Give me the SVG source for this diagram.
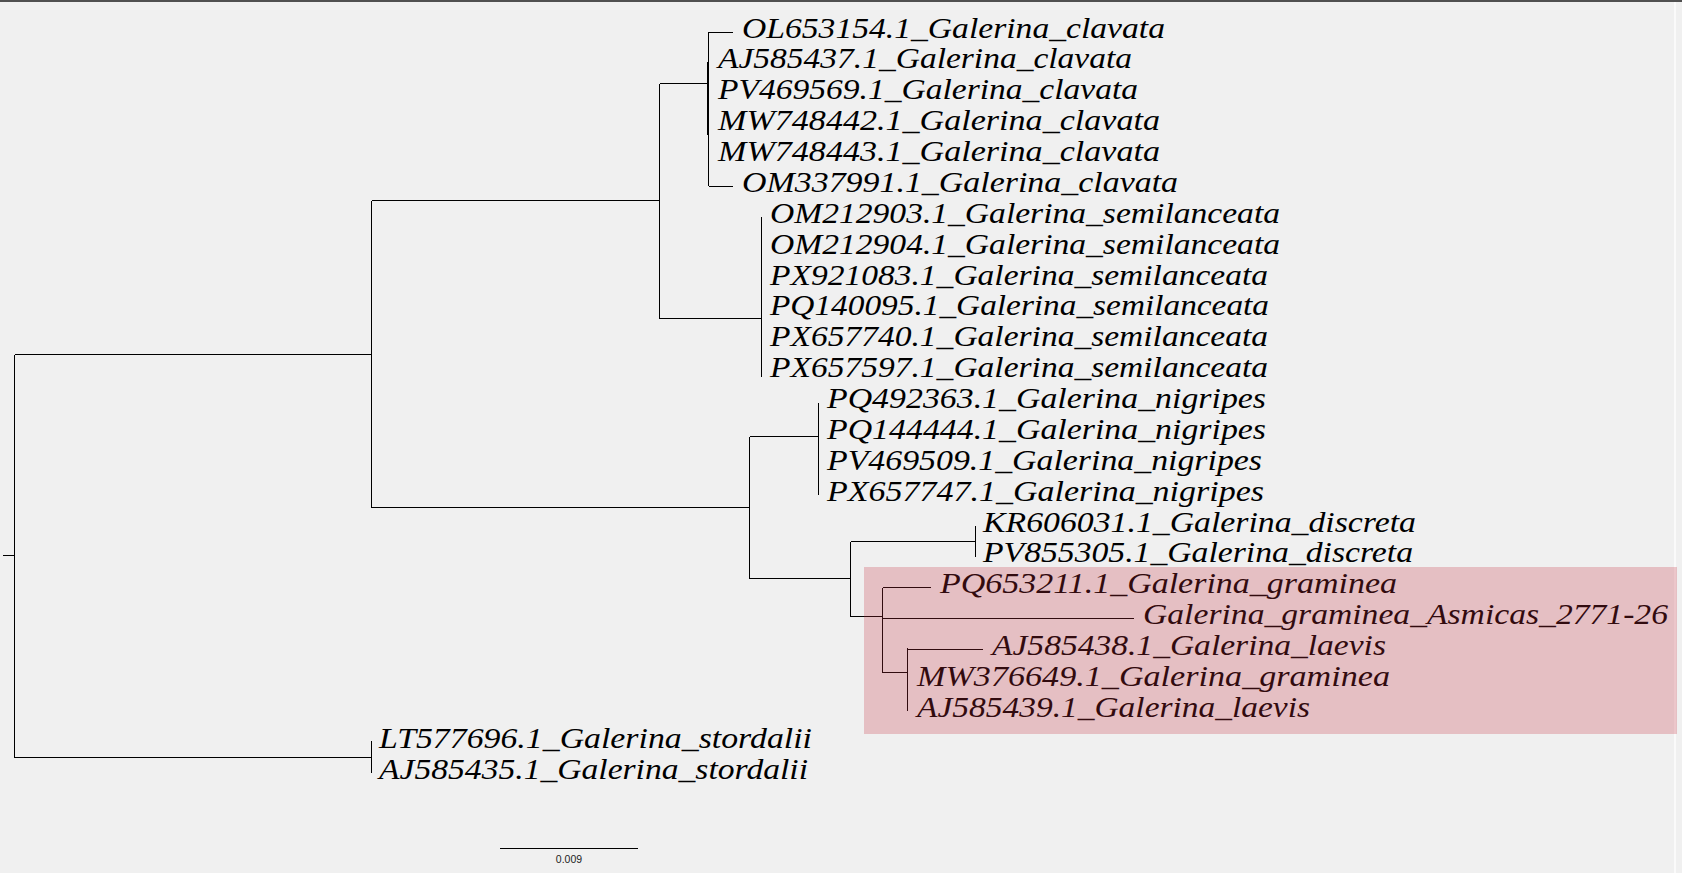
<svg xmlns="http://www.w3.org/2000/svg" width="1682" height="873" viewBox="0 0 1682 873">
<style>
.bg{fill:#f0f0f0}
.br{stroke:#000;stroke-width:1;fill:none;shape-rendering:crispEdges}
.tip{font-family:"Liberation Serif","DejaVu Serif",serif;font-style:italic;font-size:30px;fill:#000}
.scale{font-family:"Liberation Sans","DejaVu Sans",sans-serif;font-size:10.5px;fill:#222}
</style>
<rect class="bg" x="0" y="0" width="1682" height="873"/>
<rect x="0" y="0" width="1682" height="2" fill="#505050"/>
<rect x="1674" y="2" width="2" height="871" fill="#fafafa"/>
<g id="connectors">
<path class="br" d="M3 555.5H14.5M14.5 354.5V757.5M14.5 354.5H371.5M14.5 757.5H371.5M371.5 200.5V507.5M371.5 741V773"/>
<path class="br" d="M371.5 200.5H659.5M659.5 83.5V318.5M659.5 83.5H708.5M708.5 32V186M708.5 32.5H733M708.5 186.5H733M659.5 318.5H761.5M761.5 217V377"/>
<rect x="707" y="62" width="2" height="73" fill="#000"/>
<path class="br" d="M371.5 507.5H749.5M749.5 436.5V578.5M749.5 436.5H818.5M818.5 403V495"/>
<path class="br" d="M749.5 578.5H850.5M850.5 541.5V616.5M850.5 541.5H975.5M975.5 526V557M850.5 616.5H882.5M882.5 587.5V672.5M882.5 587.5H931M882.5 618.5H1134M882.5 672.5H907.5M907.5 648V711M907.5 649.5H983"/>
<path class="br" d="M500 848.5H638"/>
</g>
<g id="clade-clavata">
<text class="tip" x="742" y="37.5" textLength="423" lengthAdjust="spacingAndGlyphs">OL653154.1_Galerina_clavata</text>
<text class="tip" x="718" y="68.4" textLength="414" lengthAdjust="spacingAndGlyphs">AJ585437.1_Galerina_clavata</text>
<text class="tip" x="718" y="99.3" textLength="420" lengthAdjust="spacingAndGlyphs">PV469569.1_Galerina_clavata</text>
<text class="tip" x="718" y="130.1" textLength="442" lengthAdjust="spacingAndGlyphs">MW748442.1_Galerina_clavata</text>
<text class="tip" x="718" y="161" textLength="442" lengthAdjust="spacingAndGlyphs">MW748443.1_Galerina_clavata</text>
<text class="tip" x="742" y="191.9" textLength="436" lengthAdjust="spacingAndGlyphs">OM337991.1_Galerina_clavata</text>
</g>
<g id="clade-semilanceata">
<text class="tip" x="770" y="222.8" textLength="510" lengthAdjust="spacingAndGlyphs">OM212903.1_Galerina_semilanceata</text>
<text class="tip" x="770" y="253.6" textLength="510" lengthAdjust="spacingAndGlyphs">OM212904.1_Galerina_semilanceata</text>
<text class="tip" x="770" y="284.5" textLength="498" lengthAdjust="spacingAndGlyphs">PX921083.1_Galerina_semilanceata</text>
<text class="tip" x="770" y="315.4" textLength="499" lengthAdjust="spacingAndGlyphs">PQ140095.1_Galerina_semilanceata</text>
<text class="tip" x="770" y="346.3" textLength="498" lengthAdjust="spacingAndGlyphs">PX657740.1_Galerina_semilanceata</text>
<text class="tip" x="770" y="377.1" textLength="498" lengthAdjust="spacingAndGlyphs">PX657597.1_Galerina_semilanceata</text>
</g>
<g id="clade-nigripes">
<text class="tip" x="827" y="408" textLength="439" lengthAdjust="spacingAndGlyphs">PQ492363.1_Galerina_nigripes</text>
<text class="tip" x="827" y="438.9" textLength="439" lengthAdjust="spacingAndGlyphs">PQ144444.1_Galerina_nigripes</text>
<text class="tip" x="827" y="469.8" textLength="435" lengthAdjust="spacingAndGlyphs">PV469509.1_Galerina_nigripes</text>
<text class="tip" x="827" y="500.6" textLength="437" lengthAdjust="spacingAndGlyphs">PX657747.1_Galerina_nigripes</text>
</g>
<g id="clade-discreta">
<text class="tip" x="983" y="531.5" textLength="433" lengthAdjust="spacingAndGlyphs">KR606031.1_Galerina_discreta</text>
<text class="tip" x="983" y="562.4" textLength="430" lengthAdjust="spacingAndGlyphs">PV855305.1_Galerina_discreta</text>
</g>
<g id="clade-graminea">
<text class="tip" x="940" y="593.3" textLength="457" lengthAdjust="spacingAndGlyphs">PQ653211.1_Galerina_graminea</text>
<text class="tip" x="1143" y="624.1" textLength="525" lengthAdjust="spacingAndGlyphs">Galerina_graminea_Asmicas_2771-26</text>
<text class="tip" x="992" y="655" textLength="394" lengthAdjust="spacingAndGlyphs">AJ585438.1_Galerina_laevis</text>
<text class="tip" x="917" y="685.9" textLength="473" lengthAdjust="spacingAndGlyphs">MW376649.1_Galerina_graminea</text>
<text class="tip" x="917" y="716.8" textLength="393" lengthAdjust="spacingAndGlyphs">AJ585439.1_Galerina_laevis</text>
</g>
<g id="clade-stordalii">
<text class="tip" x="379" y="747.6" textLength="433" lengthAdjust="spacingAndGlyphs">LT577696.1_Galerina_stordalii</text>
<text class="tip" x="379" y="778.5" textLength="429" lengthAdjust="spacingAndGlyphs">AJ585435.1_Galerina_stordalii</text>
</g>
<g id="highlight">
<rect x="864" y="567" width="813" height="167" fill="rgb(196,44,60)" fill-opacity="0.25"/>
</g>
<g id="scale-bar">
<text class="scale" x="569" y="863" text-anchor="middle">0.009</text>
</g>
</svg>
